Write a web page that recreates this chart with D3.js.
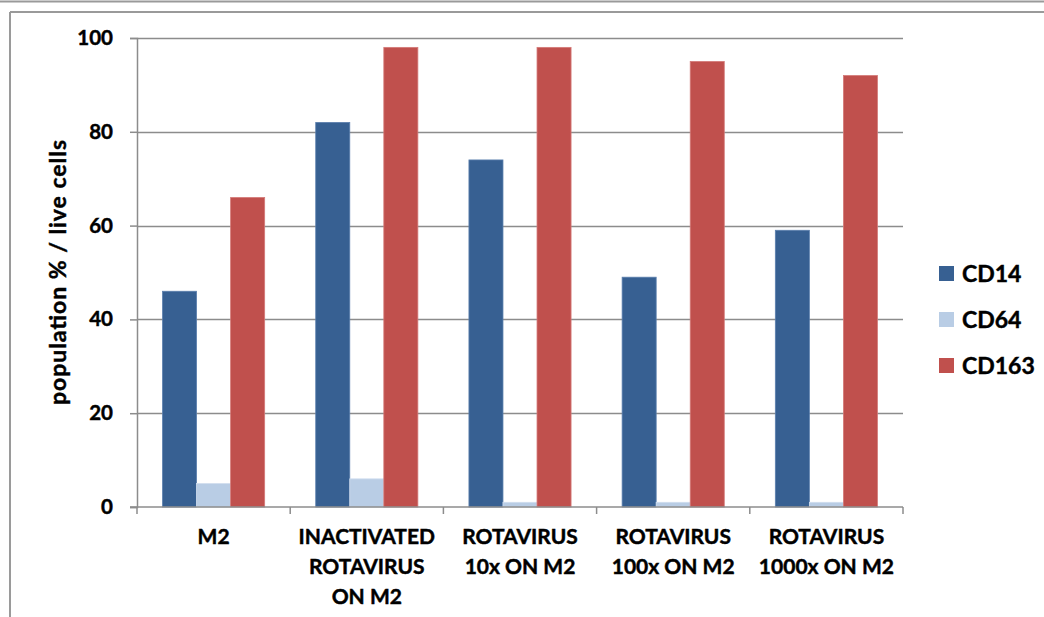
<!DOCTYPE html>
<html><head><meta charset="utf-8">
<script src="https://cdn.jsdelivr.net/npm/d3@7"></script>
<style>html,body{margin:0;padding:0;background:#fff;}svg{display:block;}</style>
</head><body>
<svg id="chart" width="1044" height="617"></svg>
<script>
const categories = [["M2"], ["INACTIVATED","ROTAVIRUS","ON M2"], ["ROTAVIRUS","10x ON M2"], ["ROTAVIRUS","100x ON M2"], ["ROTAVIRUS","1000x ON M2"]];
const seriesNames = ["CD14", "CD64", "CD163"];
const cd14 = [46, 82, 74, 49, 59];
const cd64 = [5, 6, 1, 1, 1];
const cd163 = [66, 98, 98, 95, 92];
const yTicks = [0, 20, 40, 60, 80, 100];
const colors = ["#376092", "#B9CDE5", "#C0504D"];
const strokes = ["#5b7fad", "#d0ddee", "#d47a78"];

const series = [cd14, cd64, cd163];
const svg = d3.select("#chart");
const font = "Lato, 'Liberation Sans', sans-serif";
function txt(sel, size) {
  return sel.attr("font-family", font).attr("font-weight", "bold").attr("font-size", size)
    .attr("fill", "#000").attr("stroke", "#000").attr("stroke-width", 0.45);
}

// frame lines
svg.append("line").attr("x1",0).attr("x2",1044).attr("y1",1.5).attr("y2",1.5).attr("stroke","#9a9a9a").attr("stroke-width",2);
svg.append("line").attr("x1",10).attr("x2",1044).attr("y1",12).attr("y2",12).attr("stroke","#9a9a9a").attr("stroke-width",2);
svg.append("line").attr("x1",10).attr("x2",10).attr("y1",12).attr("y2",617).attr("stroke","#9a9a9a").attr("stroke-width",2);

const x0 = 137, x1 = 903, yTop = 38, yBot = 507;
const idx = d3.range(categories.length);
const x = d3.scaleBand().domain(idx).range([x0, x1]).paddingInner(0).paddingOuter(0);
const y = d3.scaleLinear().domain([0, 100]).range([yBot, yTop]);
const groupPad = x.bandwidth() * 1.5 / 4.5 / 2;
const xs = d3.scaleBand().domain(d3.range(3)).range([groupPad, x.bandwidth() - groupPad]);

// gridlines
svg.append("g").selectAll("line").data(yTicks.filter(d => d > 0)).join("line")
  .attr("x1", x0).attr("x2", x1).attr("y1", d => Math.round(y(d)) + 0.5).attr("y2", d => Math.round(y(d)) + 0.5)
  .attr("stroke", "#8c8c8c").attr("stroke-width", 1.5);

// bars
series.forEach((vals, si) => {
  svg.append("g").selectAll("rect").data(vals).join("rect")
    .attr("x", (d, i) => x(i) + xs(si))
    .attr("width", xs.bandwidth())
    .attr("y", d => y(d))
    .attr("height", d => y(0) - y(d))
    .attr("fill", colors[si])
    .attr("stroke", strokes[si]).attr("stroke-width", 0.8);
});

// y axis
const yAxis = svg.append("g").attr("transform", `translate(${x0},0)`)
  .call(d3.axisLeft(y).tickValues(yTicks).tickSize(7).tickPadding(17).tickFormat(d3.format("d")));
yAxis.select(".domain").attr("stroke", "#8c8c8c").attr("stroke-width", 1.5);
yAxis.selectAll(".tick line").attr("stroke", "#8c8c8c").attr("stroke-width", 1.5);
txt(yAxis.selectAll(".tick text"), 20.5);

// x axis
const xAxisG = svg.append("g").attr("transform", `translate(0,${yBot})`);
xAxisG.append("line").attr("x1", x0 - 7).attr("x2", x1).attr("y1", 0).attr("y2", 0).attr("stroke", "#8c8c8c").attr("stroke-width", 1.5);
xAxisG.selectAll("line.tk").data(d3.range(categories.length + 1)).join("line").attr("class","tk")
  .attr("x1", d => x0 + d * x.bandwidth()).attr("x2", d => x0 + d * x.bandwidth())
  .attr("y1", 0).attr("y2", 7).attr("stroke", "#8c8c8c").attr("stroke-width", 1.5);
const labels = txt(xAxisG.selectAll("text").data(categories).join("text")
  .attr("x", (d, i) => x(i) + x.bandwidth() / 2)
  .attr("y", 37)
  .attr("text-anchor", "middle"), 21);
labels.selectAll("tspan").data(d => d).join("tspan")
  .attr("x", function() { return this.parentNode.getAttribute("x"); })
  .attr("dy", (d, i) => i === 0 ? 0 : 30)
  .text(d => d);

// y axis title
txt(svg.append("text")
  .attr("transform", `translate(66,${(yTop + yBot) / 2}) rotate(-90)`)
  .attr("text-anchor", "middle"), 23)
  .attr("textLength", 265).attr("lengthAdjust", "spacing")
  .text("population % / live cells");

// legend
const legend = svg.append("g").selectAll("g").data(seriesNames).join("g")
  .attr("transform", (d, i) => `translate(939,${266 + i * 46})`);
legend.append("rect").attr("width", 15).attr("height", 15).attr("fill", (d, i) => colors[i]);
txt(legend.append("text").attr("x", 23).attr("y", 15.5), 23)
  .text(d => d);
</script>
</body></html>
